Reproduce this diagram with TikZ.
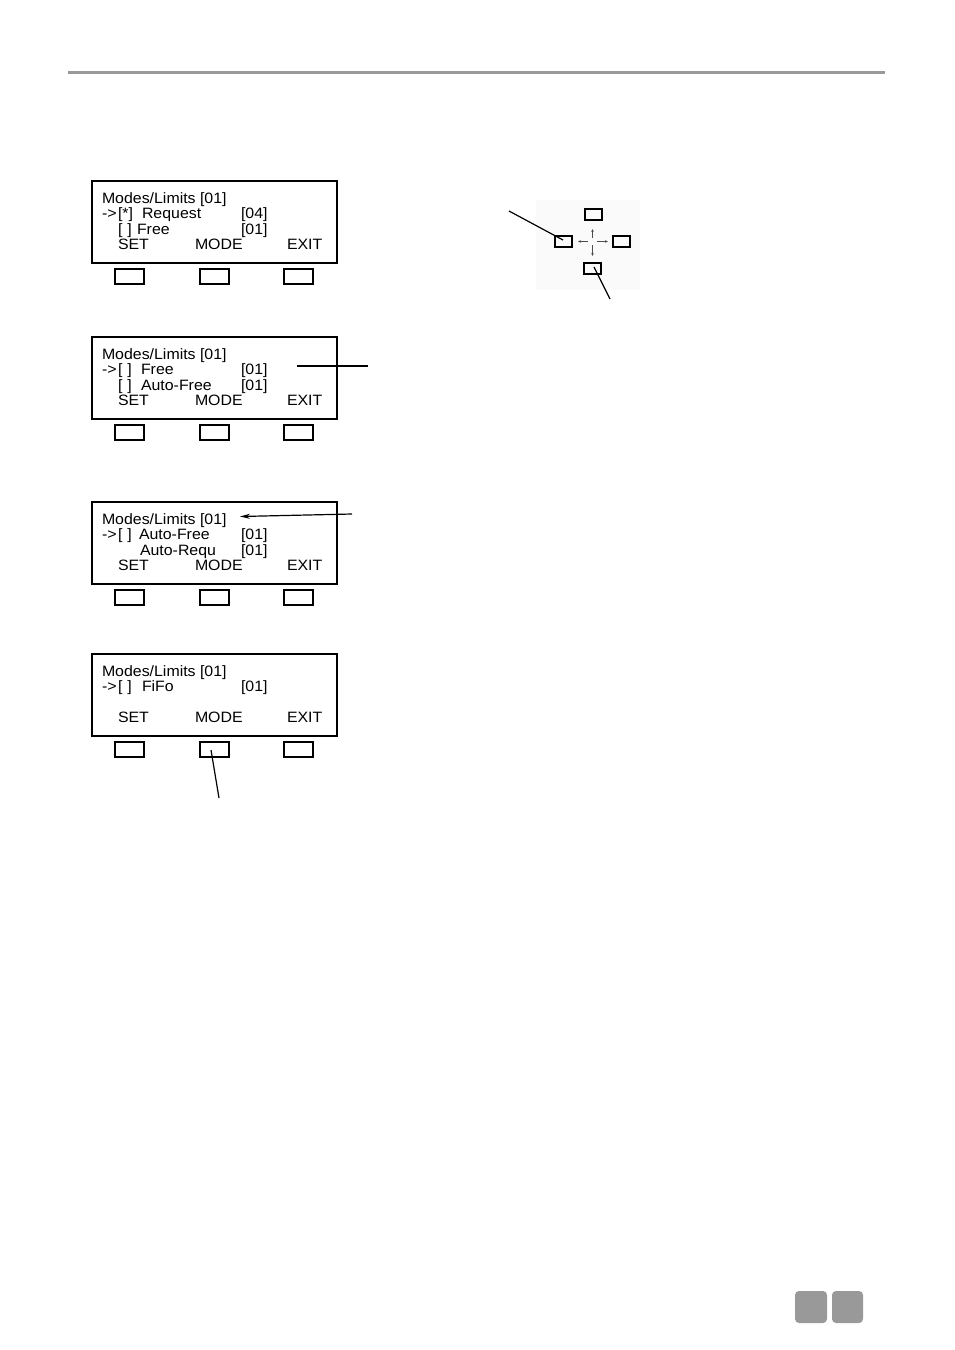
\documentclass[tikz,border=0pt]{standalone}
\usepackage{fontspec}
\setmainfont{Liberation Sans}[FakeStretch=1.06]
\usetikzlibrary{arrows.meta}
\definecolor{rulegray}{HTML}{999999}
\definecolor{padbg}{HTML}{FAFAFA}
\newcommand\lcdpanel[2]{%
  \node[lcdbox] (#1) at (92,#2) {};
  \node[keybtn] (#1k1) at (115,#2+88) {};
  \node[keybtn] (#1k2) at (200,#2+88) {};
  \node[keybtn] (#1k3) at (284,#2+88) {};
  \node[lcdtxt] (#1t0) at (102,#2+22) {Modes/Limits [01]};
  \node[lcdtxt] (#1set) at (118,#2+68) {SET};
  \node[lcdtxt] (#1mode) at (195,#2+68) {MODE};
  \node[lcdtxt] (#1exit) at (287,#2+68) {EXIT};
}
\newcommand\emptybox{[\hspace{5pt}]}
\begin{document}
\begin{tikzpicture}[x=1pt,y=-1pt,
  lcdbox/.style={draw,line width=1.8pt,anchor=north west,minimum width=245pt,minimum height=82pt,inner sep=0pt,outer sep=0pt},
  keybtn/.style={draw,line width=1.3pt,anchor=north west,minimum width=29pt,minimum height=15pt,inner sep=0pt,outer sep=0pt},
  padkey/.style={draw,line width=1.3pt,anchor=north west,minimum width=17pt,minimum height=11pt,inner sep=0pt,outer sep=0pt},
  lcdtxt/.style={anchor=base west,inner sep=0pt,outer sep=0pt,font=\fontsize{15}{18}\selectfont},
  leader/.style={line width=1.2pt},
  tinyarrow/.style={line width=0.5pt,draw=black!70,-{Stealth[length=3pt,width=2.6pt,open]}}]
\useasboundingbox (0,0) rectangle (954,1350);
\fill[white] (0,0) rectangle (954,1350);
% header rule
\draw[rulegray,line width=3pt] (68,72) -- (885,72);

% display 1
\lcdpanel{a}{181}
\node[lcdtxt] at (102,218.5) {->};
\node[lcdtxt] at (118,218.5) {[*]};
\node[lcdtxt] at (142,218.5) {Request};
\node[lcdtxt] at (241,218.5) {[04]};
\node[lcdtxt] at (118,234) {\emptybox};
\node[lcdtxt] at (137,234) {Free};
\node[lcdtxt] at (241,234) {[01]};

% display 2
\lcdpanel{b}{337}
\node[lcdtxt] at (102,374.5) {->};
\node[lcdtxt] at (118,374.5) {\emptybox};
\node[lcdtxt] at (141,374.5) {Free};
\node[lcdtxt] at (241,374.5) {[01]};
\node[lcdtxt] at (118,390) {\emptybox};
\node[lcdtxt] at (141,390) {Auto-Free};
\node[lcdtxt] at (241,390) {[01]};
\coordinate (bl1) at (297,366);
\coordinate (bl2) at (368,366);
\draw[leader] (bl1) -- (bl2);

% display 3
\lcdpanel{c}{502}
\node[lcdtxt] at (102,539.5) {->};
\node[lcdtxt] at (118,539.5) {\emptybox};
\node[lcdtxt] at (139,539.5) {Auto-Free};
\node[lcdtxt] at (241,539.5) {[01]};
\node[lcdtxt] at (140,555) {Auto-Requ};
\node[lcdtxt] at (241,555) {[01]};
\coordinate (cl1) at (352,514);
\coordinate (cl2) at (240,516.5);
\draw[leader,-{Stealth[length=10pt,width=5pt]}] (cl1) -- (cl2);

% display 4
\lcdpanel{d}{654}
\node[lcdtxt] at (102,691.5) {->};
\node[lcdtxt] at (118,691.5) {\emptybox};
\node[lcdtxt] at (142,691.5) {FiFo};
\node[lcdtxt] at (241,691.5) {[01]};
\coordinate (dl2) at (219,798);
\draw[leader] (211,750) -- (dl2);

% keypad icon
\fill[padbg] (536,200) rectangle (640,290);
\node[padkey] (pu) at (585,209) {};
\node[padkey] (pl) at (555,236) {};
\node[padkey] (pr) at (613,236) {};
\node[padkey] (pd) at (584,263) {};
\coordinate (pc) at (592.5,241.5);
\draw[tinyarrow] (588,241.5) -- (578,241.5);
\draw[tinyarrow] (597,241.5) -- (608,241.5);
\draw[tinyarrow] (592.5,238) -- (592.5,229);
\draw[tinyarrow] (592.5,245) -- (592.5,256);
\coordinate (kl1) at (509,211);
\draw[leader] (kl1) -- (563,240);
\coordinate (kl2) at (610,299);
\draw[leader] (594,267) -- (kl2);

% page tabs
\fill[rulegray,rounded corners=4pt] (795,1291) rectangle (827,1323);
\fill[rulegray,rounded corners=4pt] (832,1291) rectangle (863,1323);
\end{tikzpicture}
\end{document}
